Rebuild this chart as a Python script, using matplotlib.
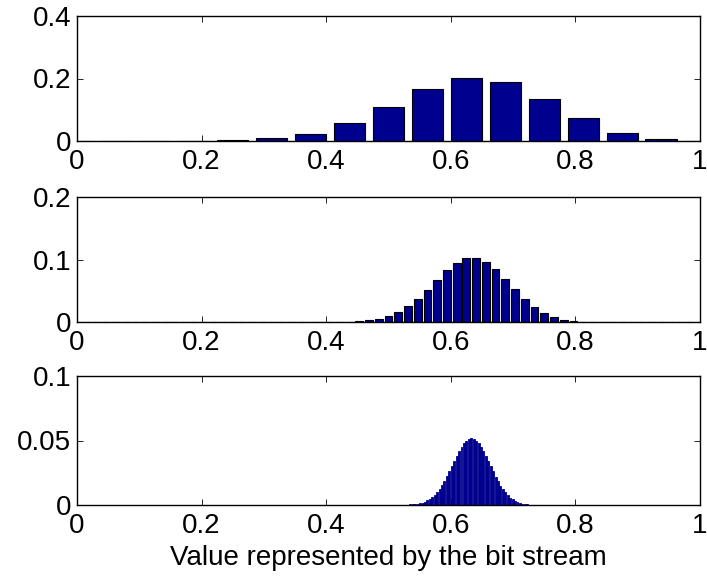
import numpy as np
import matplotlib
matplotlib.use("Agg")
import matplotlib.pyplot as plt

plt.rcParams['font.family'] = ['Liberation Sans', 'DejaVu Sans']

# probability of each value for 16, 64 and 256 bit streams
top_n = 16
top_vals = [0.0, 0.0, 0.0001, 0.0005, 0.002, 0.0086, 0.0235, 0.057, 0.110,
            0.168, 0.202, 0.190, 0.136, 0.073, 0.027, 0.0053, 0.0005]

mid_n = 64
mid_start = 27
mid_vals = [0.0002, 0.0005, 0.0011, 0.0027, 0.0049, 0.0092, 0.0157, 0.026,
            0.0373, 0.052, 0.0676, 0.083, 0.095, 0.1027, 0.1027, 0.0968,
            0.0849, 0.069, 0.053, 0.0368, 0.0243, 0.0146, 0.0076, 0.0032,
            0.0016, 0.0006, 0.0002]

bot_n = 256
bot_start = 134
bot_vals = [0.0001, 0.0002, 0.0003, 0.0004, 0.0005, 0.0007, 0.001, 0.0014,
            0.0019, 0.0026, 0.0036, 0.0047, 0.0062, 0.008, 0.0102, 0.0127,
            0.0156, 0.0188, 0.0224, 0.0263, 0.0303, 0.0343, 0.0382, 0.0419,
            0.0452, 0.0479, 0.0499, 0.0512, 0.0516, 0.0512, 0.0499, 0.0478,
            0.0451, 0.0418, 0.038, 0.034, 0.03, 0.026, 0.022, 0.0184,
            0.0151, 0.0122, 0.0097, 0.0075, 0.0058, 0.0044, 0.0032, 0.0023,
            0.0016, 0.0011, 0.0008, 0.0005, 0.0003, 0.0002, 0.0001, 0.0001,
            0.0]

xticks = [0, 0.2, 0.4, 0.6, 0.8, 1]
xticklabels = ["0", "0.2", "0.4", "0.6", "0.8", "1"]
panels = [
    (top_n, 0, top_vals, [0, 0.2, 0.4], ["0", "0.2", "0.4"]),
    (mid_n, mid_start, mid_vals, [0, 0.1, 0.2], ["0", "0.1", "0.2"]),
    (bot_n, bot_start, bot_vals, [0, 0.05, 0.1], ["0", "0.05", "0.1"]),
]
xlabel = "Value represented by the bit stream"

barcolor = (0, 0, 0.5625)
fsize = 20

fig = plt.figure(figsize=(7.07, 5.77), dpi=100)
# axes boxes in pixels: left, top, right, bottom
boxes = [(77, 16, 700, 141), (77, 197, 700, 322), (77, 376, 700, 505)]

for box, (n, start, vals, yt, ytl) in zip(boxes, panels):
    l, t, r, b = box
    ax = fig.add_axes([l/707, (577-b)/577, (r-l)/707, (b-t)/577])
    heights = np.zeros(n + 1)
    heights[start:start + len(vals)] = vals
    x = np.arange(n + 1) / n
    if n > 100:
        ax.bar(x, heights, width=0.8 / n, color=barcolor,
               edgecolor=barcolor, linewidth=0.6)
    else:
        ax.bar(x, heights, width=0.8 / n, color=barcolor,
               edgecolor='black', linewidth=0.8)
    ax.set_xlim(0, 1)
    ax.set_ylim(yt[0], yt[-1])
    ax.set_xticks(xticks)
    ax.set_xticklabels(xticklabels)
    ax.set_yticks(yt)
    ax.set_yticklabels(ytl)
    ax.tick_params(direction='in', top=True, right=True, length=4,
                   width=0.6, labelsize=fsize)
    ax.tick_params(axis='x', pad=6)
    ax.tick_params(axis='y', pad=4)
    for sp in ax.spines.values():
        sp.set_linewidth(1.0)
    last = ax

last.set_xlabel(xlabel, fontsize=fsize, labelpad=4)

fig.savefig("out.png", dpi=100)
